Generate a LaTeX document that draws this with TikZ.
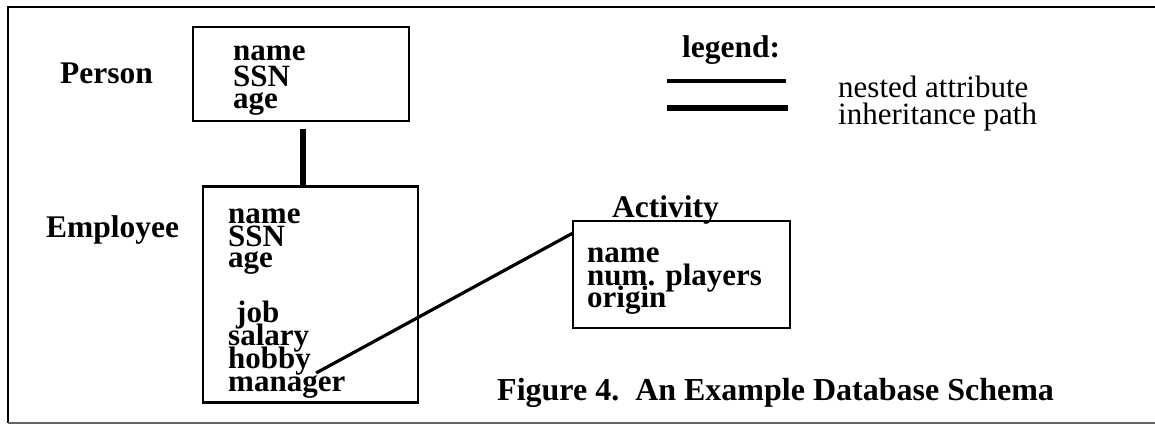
\documentclass[tikz,border=0pt]{standalone}
\usepackage{fontspec}
\setmainfont{Liberation Serif}
\begin{document}
\begin{tikzpicture}[x=1pt,y=-1pt,
  frameline/.style={line width=2.6pt},
  classbox/.style={draw,line width=2.6pt,rectangle,inner sep=0pt},
  attr/.style={anchor=base west,inner sep=0pt,font=\fontsize{31}{23}\selectfont\bfseries},
  label/.style={anchor=base west,inner sep=0pt,font=\fontsize{31.5}{23}\selectfont\bfseries},
  plain/.style={anchor=base west,inner sep=0pt,font=\fontsize{31}{23}\selectfont},
  nested/.style={line width=3.2pt},
  inherit/.style={line width=5.5pt}]
\useasboundingbox (0,0) rectangle (1155,426);
% outer frame (open on the right)
\draw[frameline] (1155,7) -- (8,7) -- (8,423);
\draw[line width=1.8pt,black!60] (8,423) -- (1155,423);

% Person
\node[label] (personlbl) at (60,83) {Person};
\node[classbox,minimum width=216pt,minimum height=94pt] (person) at (301,74) {};
\node[attr] (p1) at (233,60) {name};
\node[attr] (p2) at (233,86) {SSN};
\node[attr] (p3) at (233,108) {age};

% Employee
\node[label] (emplbl) at (46,237) {Employee};
\node[classbox,minimum width=215pt,minimum height=216pt] (employee) at (310.5,294.5) {};
\node[attr] (e1) at (228,223) {name};
\node[attr] (e2) at (228,246) {SSN};
\node[attr] (e3) at (228,267) {age};
\node[attr] (e4) at (236,322) {job};
\node[attr] (e5) at (228,345) {salary};
\node[attr] (e6) at (228,368) {hobby};
\node[attr] (e7) at (228,391) {manager};

% Activity
\node[label] (actlbl) at (612,217) {Activity};
\node[classbox,minimum width=217pt,minimum height=107pt] (activity) at (681.5,274.5) {};
\node[attr] (a1) at (587,262) {name};
\node[attr] (a2) at (587,285) {num. players};
\node[attr] (a3) at (587,307) {origin};

% inheritance path Person -> Employee
\draw[inherit,shorten <=7pt] ([xshift=2pt]person.south) -- ([xshift=2pt]person.south |- employee.north);

% nested attribute hobby -> Activity
\coordinate (hobbyend) at ([xshift=5pt,yshift=-5pt]e6.base east);
\coordinate (actend) at ([xshift=-39pt,yshift=-16pt]actlbl.base west);
\draw[nested] (hobbyend) -- (actend);

% legend
\node[label] (leglbl) at (682,57) {legend:};
\coordinate (l1a) at (667,81);
\coordinate (l1b) at (786,81);
\coordinate (l2a) at (667,108);
\coordinate (l2b) at (788,108);
\draw[nested] (l1a) -- (l1b);
\draw[inherit] (l2a) -- (l2b);
\node[plain] (legnested) at (838,97) {nested attribute};
\node[plain] (leginherit) at (838,124) {inheritance path};

% caption
\node[label,font=\fontsize{32}{23}\selectfont\bfseries] (caption) at (497,400) {Figure 4.\ \ An Example Database Schema};
\end{tikzpicture}
\end{document}
